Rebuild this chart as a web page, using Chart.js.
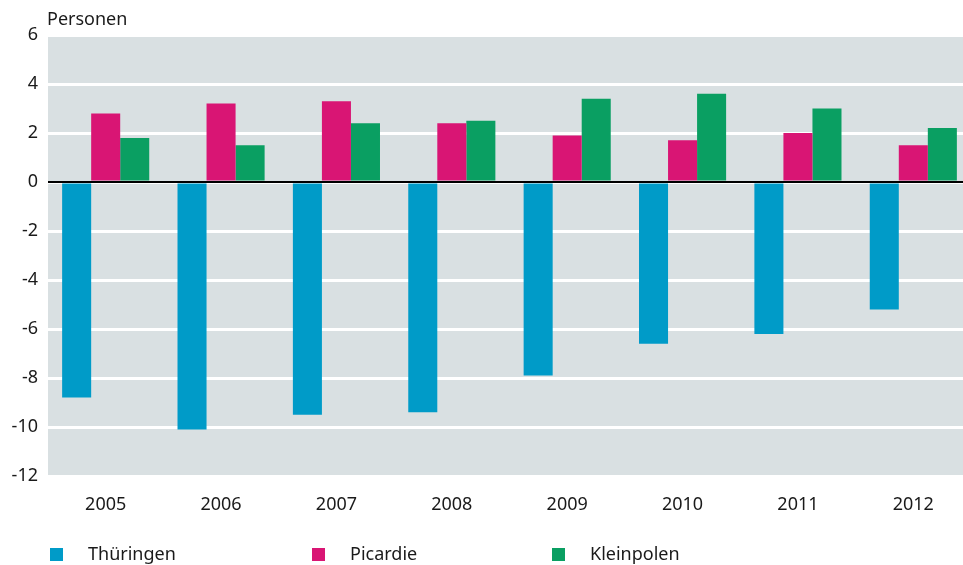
<!DOCTYPE html>
<html>
<head>
<meta charset="utf-8">
<script src="https://cdn.jsdelivr.net/npm/chart.js@4"></script>
<style>
  html, body { margin: 0; padding: 0; background: #ffffff; overflow: hidden; }
  #wrap { width: 963px; height: 565px; overflow: hidden; }
  canvas { display: block; }
</style>
</head>
<body>
<div id="wrap"><canvas id="c" width="975" height="565"></canvas></div>
<script>
// Jahre
const years = ['2005', '2006', '2007', '2008', '2009', '2010', '2011', '2012'];
// Werte je Region (Personen)
const thueringen = [-8.8, -10.1, -9.5, -9.4, -7.9, -6.6, -6.2, -5.2];
const picardie   = [2.8, 3.2, 3.3, 2.4, 1.9, 1.7, 2.0, 1.5];
const kleinpolen = [1.8, 1.5, 2.4, 2.5, 3.4, 3.6, 3.0, 2.2];
const seriesNames = ['Thüringen', 'Picardie', 'Kleinpolen'];
const unitLabel = 'Personen';
const yMin = -12, yMax = 6, yStep = 2;

const colors = ['#009bc8', '#d91574', '#0a9f62'];
const FONT = '"Noto Sans", sans-serif';
const TEXT = '#1a1a1a';

const panelPlugin = {
  id: 'panel',
  beforeDraw(chart) {
    const { ctx, chartArea: a } = chart;
    ctx.save();
    ctx.fillStyle = '#d9e0e2';
    ctx.fillRect(a.left, a.top, a.right - a.left, a.bottom - a.top);
    ctx.restore();
  },
  afterDatasetsDraw(chart) {
    const { ctx, chartArea: a, scales } = chart;
    const y0 = Math.round(scales.y.getPixelForValue(0));
    ctx.save();
    ctx.strokeStyle = '#000000';
    ctx.lineWidth = 2;
    ctx.beginPath();
    ctx.moveTo(a.left, y0);
    ctx.lineTo(a.right, y0);
    ctx.stroke();
    ctx.restore();
  },
  afterDraw(chart) {
    const { ctx } = chart;
    ctx.save();
    ctx.fillStyle = TEXT;
    ctx.font = '18px ' + FONT;
    ctx.textBaseline = 'middle';
    ctx.textAlign = 'left';
    ctx.fillText(unitLabel, 47, 20);
    // Legende
    const xs = [50, 312, 552];
    chart.data.datasets.forEach((ds, i) => {
      ctx.fillStyle = ds.backgroundColor;
      ctx.fillRect(xs[i], 548, 13, 13);
      ctx.fillStyle = TEXT;
      ctx.fillText(ds.label, xs[i] + 38, 555);
    });
    ctx.restore();
  }
};

new Chart(document.getElementById('c'), {
  type: 'bar',
  data: {
    labels: years,
    datasets: [
      { label: seriesNames[0], data: thueringen, backgroundColor: colors[0] },
      { label: seriesNames[1], data: picardie,   backgroundColor: colors[1] },
      { label: seriesNames[2], data: kleinpolen, backgroundColor: colors[2] }
    ]
  },
  options: {
    responsive: false,
    animation: false,
    layout: { padding: { top: 35, right: 4, left: 0, bottom: 44 } },
    datasets: { bar: { categoryPercentage: 0.755, barPercentage: 1.0, borderWidth: 0 } },
    plugins: { legend: { display: false }, tooltip: { enabled: false } },
    scales: {
      x: {
        grid: { display: false, drawTicks: false },
        border: { display: false },
        ticks: { color: TEXT, font: { family: FONT, size: 18 }, padding: 18, maxRotation: 0 },
        afterFit(scale) { scale.height = 45; }
      },
      y: {
        min: yMin, max: yMax,
        grid: { color: '#ffffff', lineWidth: 3, drawTicks: false },
        border: { display: false },
        ticks: { stepSize: yStep, color: TEXT, font: { family: FONT, size: 18 }, padding: 10 },
        afterFit(scale) { scale.width = 48; }
      }
    }
  },
  plugins: [panelPlugin]
});
</script>
</body>
</html>
